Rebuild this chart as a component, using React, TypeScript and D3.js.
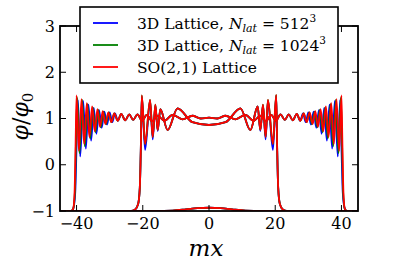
import React from "react";
import * as d3 from "d3";

// ---- data (mx, phi/phi0) ----
const xTicks = [-40, -20, 0, 20, 40];
const yTicks = [-1, 0, 1, 2, 3];

// snapshot 0: small bump in the false vacuum
const bump = [
  [-45, -1], [-16, -1], [-11, -0.99], [-7, -0.965], [-3.5, -0.94], [0, -0.93],
  [3.5, -0.94], [7, -0.965], [11, -0.99], [16, -1], [45, -1],
];

// snapshot 1: walls at +-20
const innerWallLeftRed = [
  [-45, -1], [-23.5, -1], [-22.3, -0.97], [-21.4, -0.85], [-20.9, -0.5], [-20.6, 0.3],
  [-20.3, 1.5], [-19.3, 0.45], [-17.8, 1.4], [-17.0, 0.6], [-16.2, 1.3], [-15.5, 0.75], [-14.7, 1.2],
];
const innerWallLeftBlue = [
  [-45, -1], [-23.5, -1], [-22.3, -0.97], [-21.4, -0.85], [-20.9, -0.5], [-20.6, 0.3],
  [-20.3, 1.48], [-19.3, 0.32], [-17.8, 1.38], [-17.0, 0.55], [-16.2, 1.28], [-15.5, 0.73], [-14.7, 1.2],
];
const innerCore = [
  [-12.5, 0.75], [-9.5, 1.22], [-5, 0.92], [0, 0.86], [5, 0.92], [9.5, 1.22], [12.5, 0.75],
];
const innerWallRightRed = [
  [14.7, 1.26], [15.5, 0.75], [16.3, 1.3], [17.1, 0.6], [17.8, 1.4], [19.3, 0.45], [20.3, 1.51],
  [20.6, 0.3], [20.9, -0.5], [21.4, -0.85], [22.3, -0.97], [23.5, -1], [45, -1],
];
const innerWallRightBlue = [
  [14.7, 1.26], [15.5, 0.73], [16.3, 1.28], [17.1, 0.55], [17.8, 1.38], [19.3, 0.32], [20.3, 1.49],
  [20.6, 0.3], [20.9, -0.5], [21.4, -0.85], [22.3, -0.97], [23.5, -1], [45, -1],
];

// snapshot 2: walls at +-40
const outerWallLeftRed = [
  [-45, -1], [-41.6, -1], [-41.0, -0.95], [-40.6, -0.6], [-40.3, 0.4], [-40.0, 1.5],
  [-39.3, 0.3], [-38.5, 1.42], [-37.7, 0.45], [-36.9, 1.33], [-36.1, 0.6], [-35.3, 1.26],
  [-34.5, 0.72], [-33.7, 1.2], [-32.9, 0.82], [-32.1, 1.16], [-31.3, 0.88], [-30.4, 1.13],
  [-29.5, 0.92], [-28.6, 1.11], [-27.6, 0.95], [-26.5, 1.1],
];
const outerWallLeftGreen = [
  [-45, -1], [-41.6, -1], [-41.0, -0.95], [-40.5, -0.6], [-40.2, 0.4], [-39.8, 1.45],
  [-39.1, 0.25], [-38.3, 1.4], [-37.5, 0.4], [-36.7, 1.31], [-35.9, 0.57], [-35.1, 1.24],
  [-34.3, 0.7], [-33.5, 1.19], [-32.7, 0.81], [-31.9, 1.15], [-31.1, 0.88], [-30.3, 1.13],
  [-29.5, 0.92], [-28.6, 1.11], [-27.6, 0.95], [-26.5, 1.1],
];
const outerWallLeftBlue = [
  [-45, -1], [-41.6, -1], [-41.0, -0.95], [-40.4, -0.6], [-40.0, 0.4], [-39.6, 1.4],
  [-38.9, 0.18], [-38.0, 1.38], [-37.2, 0.35], [-36.4, 1.3], [-35.6, 0.52], [-34.8, 1.23],
  [-34.0, 0.67], [-33.2, 1.18], [-32.4, 0.8], [-31.6, 1.15], [-30.8, 0.87], [-30.0, 1.13],
  [-29.2, 0.92], [-28.4, 1.11], [-27.5, 0.95], [-26.5, 1.1],
];
const outerCore = [
  [-25.3, 0.96], [-24.1, 1.09], [-22.9, 0.97], [-21.6, 1.09], [-20.2, 0.95], [-18.8, 1.08],
  [-17.2, 0.94], [-15.5, 1.06], [-13.5, 0.95], [-11, 1.08], [-8, 0.98], [-5, 1.06], [-2.5, 1.0],
  [0, 1.02], [2.5, 1.0], [5, 1.06], [8, 0.98], [11, 1.08], [13.5, 0.95], [15.5, 1.06], [17.2, 0.94],
  [18.8, 1.08], [20.2, 0.95], [21.6, 1.09], [22.9, 0.97], [24.1, 1.09], [25.3, 0.96],
];
const outerWallRightRed = [
  [26.5, 1.1], [27.6, 0.95], [28.6, 1.11], [29.5, 0.92], [30.4, 1.13], [31.3, 0.88], [32.1, 1.16],
  [32.9, 0.82], [33.7, 1.2], [34.5, 0.72], [35.3, 1.26], [36.1, 0.6], [36.9, 1.33], [37.7, 0.45],
  [38.5, 1.42], [39.3, 0.3], [40.0, 1.5], [40.3, 0.4], [40.6, -0.6], [41.0, -0.95], [41.6, -1], [45, -1],
];
const outerWallRightGreen = [
  [26.5, 1.1], [27.6, 0.95], [28.6, 1.11], [29.5, 0.92], [30.3, 1.13], [31.1, 0.88], [31.9, 1.15],
  [32.7, 0.81], [33.5, 1.19], [34.3, 0.7], [35.1, 1.24], [35.9, 0.57], [36.7, 1.31], [37.5, 0.4],
  [38.3, 1.4], [39.1, 0.25], [39.8, 1.45], [40.2, 0.4], [40.5, -0.6], [41.0, -0.95], [41.6, -1], [45, -1],
];
const outerWallRightBlue = [
  [26.5, 1.1], [27.5, 0.95], [28.4, 1.11], [29.2, 0.92], [30.0, 1.13], [30.8, 0.87], [31.6, 1.15],
  [32.4, 0.8], [33.2, 1.18], [34.0, 0.67], [34.8, 1.23], [35.6, 0.52], [36.4, 1.3], [37.2, 0.35],
  [38.0, 1.38], [38.9, 0.18], [39.6, 1.4], [40.0, 0.4], [40.4, -0.6], [41.0, -0.95], [41.6, -1], [45, -1],
];

const series = [
  { name: "512", color: "#0000ff", curves: [
    bump,
    [...innerWallLeftBlue, ...innerCore, ...innerWallRightBlue],
    [...outerWallLeftBlue, ...outerCore, ...outerWallRightBlue],
  ] },
  { name: "1024", color: "#008000", curves: [
    bump,
    [...innerWallLeftRed, ...innerCore, ...innerWallRightRed],
    [...outerWallLeftGreen, ...outerCore, ...outerWallRightGreen],
  ] },
  { name: "so21", color: "#ff0000", curves: [
    bump,
    [...innerWallLeftRed, ...innerCore, ...innerWallRightRed],
    [...outerWallLeftRed, ...outerCore, ...outerWallRightRed],
  ] },
];

const SERIF = "DejaVu Serif, Liberation Serif, serif";

export default function App() {
  const W = 399;
  const H = 268;
  const m = { left: 60, right: 41, top: 26, bottom: 57 };
  const x = d3.scaleLinear().domain([-45, 45]).range([m.left, W - m.right]);
  const y = d3.scaleLinear().domain([-1, 3]).range([H - m.bottom, m.top]);
  const line = d3
    .line<number[]>()
    .x((d) => x(d[0]))
    .y((d) => y(d[1]))
    .curve(d3.curveMonotoneX);

  const tick = 6;
  const x0 = m.left;
  const x1 = W - m.right;
  const y0 = H - m.bottom;
  const y1 = m.top;
  const fmt = (t: number) => (t < 0 ? "\u2212" + Math.abs(t) : String(t));

  const legendRows = [
    { color: "#0000ff", n: "512" },
    { color: "#008000", n: "1024" },
    { color: "#ff0000", n: null },
  ];

  return (
    <svg width={W} height={H} style={{ position: "absolute", left: 0, top: 0, background: "#fff" }}>
      <defs>
        <clipPath id="plot">
          <rect x={x0} y={y1} width={x1 - x0} height={y0 - y1} />
        </clipPath>
      </defs>
      <g clipPath="url(#plot)">
        {series.map((s) =>
          s.curves.map((c, i) => (
            <path key={s.name + i} d={line(c) ?? ""} fill="none" stroke={s.color} strokeWidth={1.8} />
          ))
        )}
      </g>
      {/* ticks, inward on all four sides */}
      {xTicks.map((t) => (
        <g key={"xt" + t}>
          <line x1={x(t)} x2={x(t)} y1={y0} y2={y0 - tick} stroke="#000" strokeWidth={1} />
          <line x1={x(t)} x2={x(t)} y1={y1} y2={y1 + tick} stroke="#000" strokeWidth={1} />
          <text x={x(t)} y={229} textAnchor="middle" fontFamily={SERIF} fontSize={16}>
            {fmt(t)}
          </text>
        </g>
      ))}
      {yTicks.map((t) => (
        <g key={"yt" + t}>
          <line x1={x0} x2={x0 + tick} y1={y(t)} y2={y(t)} stroke="#000" strokeWidth={1} />
          <line x1={x1} x2={x1 - tick} y1={y(t)} y2={y(t)} stroke="#000" strokeWidth={1} />
          <text x={55} y={y(t) + 5.5} textAnchor="end" fontFamily={SERIF} fontSize={16}>
            {fmt(t)}
          </text>
        </g>
      ))}
      <rect x={x0} y={y1} width={x1 - x0} height={y0 - y1} fill="none" stroke="#000" strokeWidth={1.8} />

      {/* legend */}
      <rect x={80} y={7} width={258} height={76} fill="#fff" stroke="#000" strokeWidth={1.6} />
      {legendRows.map((r, i) => {
        const ly = 23 + i * 22;
        return (
          <g key={"lg" + i}>
            <line x1={93} x2={118} y1={ly} y2={ly} stroke={r.color} strokeWidth={1.8} />
            <text x={137} y={ly + 5.5} fontFamily={SERIF} fontSize={15.5}>
              {r.n ? (
                <>
                  3D Lattice,{" "}
                  <tspan fontStyle="italic">N</tspan>
                  <tspan fontStyle="italic" fontSize={11} dy={3}>lat</tspan>
                  <tspan dy={-3}> = {r.n}</tspan>
                  <tspan fontSize={10.5} dy={-7}>3</tspan>
                </>
              ) : (
                "SO(2,1) Lattice"
              )}
            </text>
          </g>
        );
      })}

      {/* axis labels */}
      <text x={206} y={256} textAnchor="middle" fontFamily={SERIF} fontStyle="italic" fontSize={23}>
        mx
      </text>
      <text transform={`translate(28,${y(1) - 2}) rotate(-90)`} textAnchor="middle" fontFamily={SERIF} fontSize={22}>
        <tspan fontStyle="italic">φ</tspan>/<tspan fontStyle="italic">φ</tspan>
        <tspan fontSize={15} dy={5}>0</tspan>
      </text>
    </svg>
  );
}
